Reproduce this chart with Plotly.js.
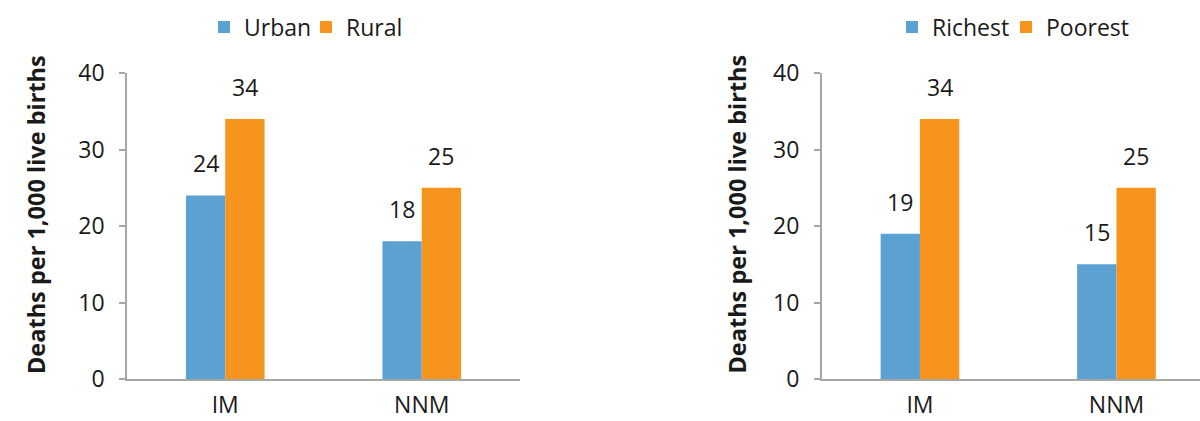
<!DOCTYPE html>
<html>
<head>
<meta charset="utf-8">
<script src="https://cdn.plot.ly/plotly-3.0.1.min.js"></script>
<style>html,body{margin:0;padding:0;background:#fff;}#chart{width:1200px;height:421px;}</style>
</head>
<body>
<div id="chart"></div>
<script>
const categories = ['IM', 'NNM'];
const urbanValues = [24, 18];
const ruralValues = [34, 25];
const richestValues = [19, 15];
const poorestValues = [34, 25];
const yTitle = 'Deaths per 1,000 live births';

const BLUE = '#5BA2D3';
const ORANGE = '#F7941E';
const AXIS = '#A6A6A6';
const TXT = '#1a1a1a';
const FONT = 'Open Sans, Noto Sans, sans-serif';

const traces = [
  {type: 'bar', name: 'Urban', x: categories, y: urbanValues, marker: {color: BLUE}, xaxis: 'x', yaxis: 'y', legend: 'legend', hoverinfo: 'x+y'},
  {type: 'bar', name: 'Rural', x: categories, y: ruralValues, marker: {color: ORANGE}, xaxis: 'x', yaxis: 'y', legend: 'legend2', hoverinfo: 'x+y'},
  {type: 'bar', name: 'Richest', x: categories, y: richestValues, marker: {color: BLUE}, xaxis: 'x2', yaxis: 'y2', legend: 'legend3', hoverinfo: 'x+y'},
  {type: 'bar', name: 'Poorest', x: categories, y: poorestValues, marker: {color: ORANGE}, xaxis: 'x2', yaxis: 'y2', legend: 'legend4', hoverinfo: 'x+y'}
];

const BAR_OFFSET = 19.65;
const annotations = [];
function addLabels(vals, xref, yref, shift) {
  vals.forEach((v, i) => {
    annotations.push({
      xref: xref, yref: yref, x: categories[i], y: v,
      xshift: shift, yshift: 14, yanchor: 'bottom', xanchor: 'center',
      showarrow: false, text: String(v),
      font: {family: FONT, size: 23, color: TXT}
    });
  });
}
addLabels(urbanValues, 'x', 'y', -BAR_OFFSET);
addLabels(ruralValues, 'x', 'y', BAR_OFFSET);
addLabels(richestValues, 'x2', 'y2', -BAR_OFFSET);
addLabels(poorestValues, 'x2', 'y2', BAR_OFFSET);

// y-axis titles (rotated annotations to match the reference offset)
[35.5, 737].forEach(px => {
  annotations.push({
    xref: 'paper', yref: 'paper', x: px / 1200, y: 0.5375,
    xanchor: 'center', yanchor: 'middle', textangle: -90, showarrow: false,
    text: yTitle,
    font: {family: FONT, size: 23.5, color: TXT, weight: 'bold'}
  });
});

function xAxis(domain, anchor, range) {
  return {
    domain: domain, anchor: anchor, range: range, type: 'category',
    showline: true, linecolor: AXIS, linewidth: 1.5,
    ticks: '', showgrid: false, zeroline: false,
    ticklabelstandoff: 5,
    tickfont: {family: FONT, size: 23, color: TXT}, fixedrange: true
  };
}
function yAxis(anchor) {
  return {
    domain: [0, 1], anchor: anchor, range: [0, 40], dtick: 10, tick0: 0,
    showline: true, linecolor: AXIS, linewidth: 1.5,
    ticks: 'outside', ticklen: 6, tickcolor: AXIS, tickwidth: 1.5,
    showgrid: false, zeroline: false, ticklabelstandoff: 10,
    tickfont: {family: FONT, size: 23, color: TXT},
    fixedrange: true
  };
}

function legendAt(px) {
  return {
    orientation: 'h', yanchor: 'middle', y: 1.15, xanchor: 'left', x: px / 1200,
    font: {family: FONT, size: 23, color: TXT}, bgcolor: 'rgba(0,0,0,0)',
    borderwidth: 0, itemclick: false, itemdoubleclick: false
  };
}

const layout = {
  width: 1200, height: 421,
  margin: {l: 0, r: 0, t: 72.5, b: 41.5, pad: 0},
  paper_bgcolor: '#fff', plot_bgcolor: '#fff',
  barmode: 'group', bargap: 0.6, bargroupgap: 0,
  showlegend: true,
  xaxis: xAxis([127 / 1200, 520 / 1200], 'y', [-0.5, 1.5]),
  yaxis: yAxis('x'),
  xaxis2: xAxis([821.7 / 1200, 1], 'y2', [-0.5, 1.425]),
  yaxis2: yAxis('x2'),
  legend: legendAt(204),
  legend2: legendAt(306),
  legend3: legendAt(892),
  legend4: legendAt(1006),
  annotations: annotations
};

Plotly.newPlot('chart', traces, layout, {displayModeBar: false, staticPlot: false, responsive: false});
</script>
</body>
</html>
